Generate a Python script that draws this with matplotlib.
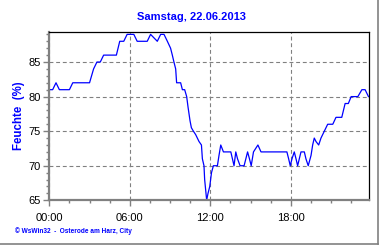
import matplotlib
matplotlib.use("Agg")
import matplotlib.pyplot as plt
from matplotlib.lines import Line2D
from matplotlib.ticker import MultipleLocator, FixedLocator

# Data (hours of day, relative humidity %)
hours = [0, 0.25, 0.5, 0.75, 1.5, 1.75, 3.0, 3.3, 3.55, 3.8, 4.05, 5.0, 5.25, 5.55,
         5.8, 6.3, 6.55, 7.3, 7.55, 8.05, 8.3, 8.55, 8.8, 9.04, 9.17, 9.29, 9.42,
         9.49, 9.79, 9.92, 10.09, 10.24, 10.34, 10.49, 10.59, 10.74, 10.91, 11.16,
         11.34, 11.41, 11.53, 11.58, 11.73, 11.83, 11.96, 12.09, 12.23, 12.53,
         12.65, 12.78, 12.98, 13.53, 13.65, 13.77, 13.9, 14.03, 14.22, 14.52,
         14.78, 14.92, 15.05, 15.22, 15.55, 15.78, 17.71, 17.84, 17.96, 18.09,
         18.26, 18.39, 18.51, 18.76, 19.01, 19.13, 19.3, 19.51, 19.63, 19.75,
         19.88, 20.08, 20.25, 20.5, 20.75, 21.13, 21.37, 21.8, 22.05, 22.29,
         22.5, 23.0, 23.3, 23.54, 23.79]
humidity = [81, 81, 82, 81, 81, 82, 82, 84, 85, 85, 86, 86, 88, 88,
            89, 89, 88, 88, 89, 88, 89, 89, 88, 87, 86, 85, 84,
            82, 82, 81, 81, 80, 78.5, 76.5, 75.5, 75, 74.5, 73.5,
            73, 71, 70, 68, 65, 66, 67, 69, 70, 70,
            71.5, 73, 72, 72, 71, 70, 72, 71, 70, 70,
            72, 71, 70, 72, 73, 72, 72, 71, 70, 71,
            72, 71, 70, 72, 72, 71, 70, 71.5, 73, 74,
            73.5, 73, 74, 75, 76, 76, 77, 77, 79, 79,
            80, 80, 81, 81, 80]

x_ticks = [0, 6, 12, 18]
x_labels = ["00:00", "06:00", "12:00", "18:00"]
y_ticks = [65, 70, 75, 80, 85]

title = "Samstag, 22.06.2013"
ylabel = "Feuchte  (%)"
footer = "\u00a9 WsWin32  -  Osterode am Harz, City"

plt.rcParams['font.family'] = ['Liberation Sans Narrow', 'Liberation Sans', 'DejaVu Sans']

fig = plt.figure(figsize=(3.8, 2.45), dpi=100)
fig.patch.set_facecolor("white")
ax = fig.add_axes([49.3/380, 1-200.3/245, (369-49.3)/380, (200.3-32.3)/245])

ax.plot(hours, humidity, color="#0000FF", lw=0.9)

ax.set_xlim(0, 23.83)
ax.set_ylim(65, 89.3)

ax.xaxis.set_major_locator(FixedLocator(x_ticks))
ax.set_xticklabels(x_labels)
ax.xaxis.set_minor_locator(MultipleLocator(1.5))
ax.yaxis.set_major_locator(FixedLocator(y_ticks))
ax.yaxis.set_minor_locator(MultipleLocator(1))

gray = "#808080"
ax.grid(True, which="major", color=gray, ls=(0, (3.5, 2.5)), lw=0.8)
ax.tick_params(which="major", direction="out", length=4, width=1, color=gray,
               labelsize=8, pad=2)
ax.tick_params(which="minor", direction="out", length=2.5, width=1, color=gray)
ax.tick_params(axis="x", which="major", pad=5)

for s in ["left", "bottom"]:
    ax.spines[s].set_color(gray)
    ax.spines[s].set_linewidth(1.6)
for s in ["top", "right"]:
    ax.spines[s].set_color("black")
    ax.spines[s].set_linewidth(0.9)

fig.text(191.5/380, 1-17.5/245, title, color="#0000FF", fontsize=8, fontweight="bold",
         ha="center", va="center", family=['Liberation Sans', 'DejaVu Sans'])
fig.text(19/380, 1-115.5/245, ylabel, color="#0000FF", fontsize=8.3, fontweight="bold",
         ha="center", va="center", rotation=90, family=['Liberation Sans', 'DejaVu Sans'])
fig.text(15/380, 1-231.5/245, footer, color="#0000FF", fontsize=4.7, fontweight="bold",
         ha="left", va="center", family=['Liberation Sans', 'DejaVu Sans'])

# figure frame (right/bottom gray edge)
fig.add_artist(Line2D([377.5/380, 377.5/380], [1-243.5/245, 1], transform=fig.transFigure,
                      color=gray, lw=1.2))
fig.add_artist(Line2D([0, 377.5/380], [1-243.5/245, 1-243.5/245], transform=fig.transFigure,
                      color=gray, lw=1.2))

fig.savefig("out.png", dpi=100)
